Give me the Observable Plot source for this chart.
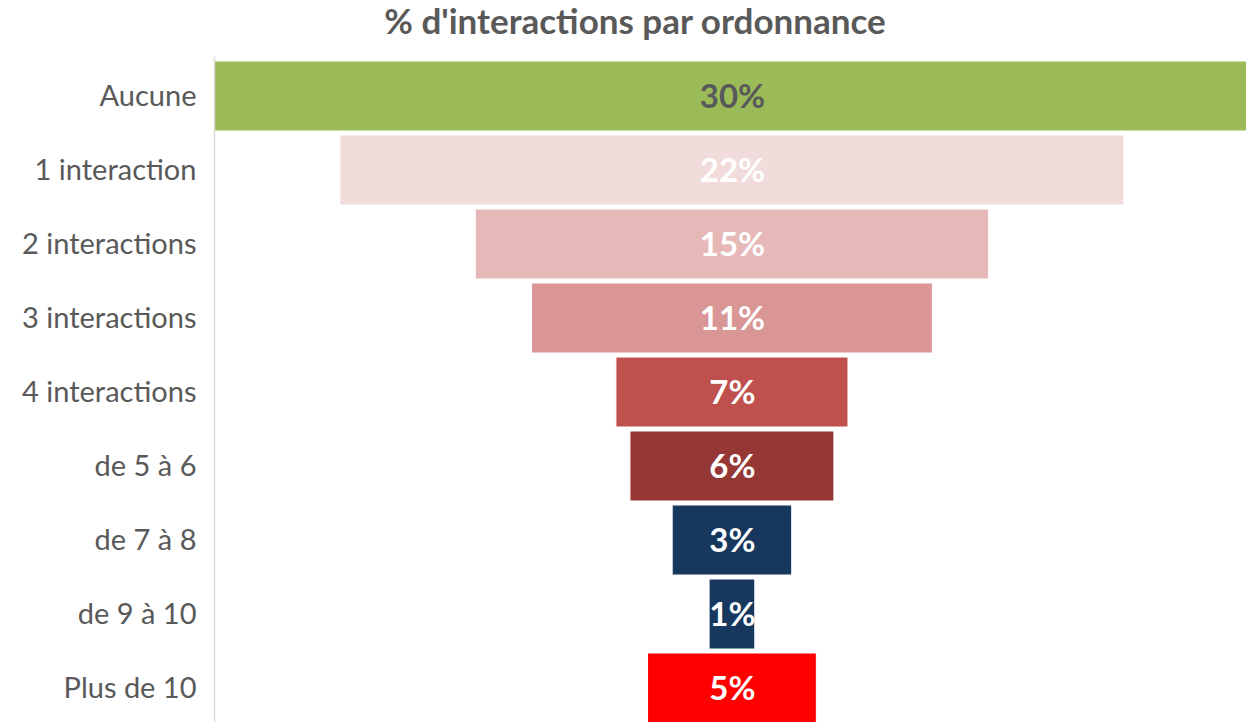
<!DOCTYPE html>
<html><head><meta charset="utf-8">
<script src="https://cdn.jsdelivr.net/npm/d3@7"></script>
<script src="https://cdn.jsdelivr.net/npm/@observablehq/plot@0.6"></script>
<style>
html,body{margin:0;padding:0;background:#fff;overflow:hidden;width:1246px;height:722px;}
#wrap{position:relative;width:1246px;height:722px;}
#title{position:absolute;left:0;width:1270px;top:-1px;text-align:center;font-family:Lato,sans-serif;font-weight:bold;font-size:35px;color:#595959;}
#chart{position:absolute;left:0;top:0;}
</style></head>
<body><div id="wrap"><div id="title">% d'interactions par ordonnance</div><div id="chart"></div></div>
<script>
const categories = ["Aucune","1 interaction","2 interactions","3 interactions","4 interactions","de 5 à 6","de 7 à 8","de 9 à 10","Plus de 10"];
const values = [30.2, 22.3, 14.6, 11.4, 6.6, 5.8, 3.4, 1.3, 4.8];
const colors = ["#9BBB59","#F2DCDB","#E6B9B8","#D99694","#C0504D","#953735","#17375E","#17375E","#FF0000"];
const labelColors = ["#595959","#fff","#fff","#fff","#fff","#fff","#fff","#fff","#fff"];

const data = categories.map((c,i)=>({cat:c, v:values[i], color:colors[i], lc:labelColors[i], label: Math.round(values[i])+"%"}));

const chart = Plot.plot({
  width: 1246, height: 727,
  marginLeft: 214, marginRight: 0, marginTop: 57, marginBottom: 0,
  style: {fontFamily: "Lato, sans-serif", background: "transparent"},
  x: {domain: [-14.73, 14.62], axis: null},
  y: {domain: categories, paddingInner: 0.06, paddingOuter: 0.03, label: null},
  marks: [
    Plot.barX(data, {y: "cat", x1: d => -d.v/2, x2: d => d.v/2, fill: d => d.color, stroke: "#fff", strokeWidth: 1, clip: true}),
    Plot.frame({anchor: "left", stroke: "#d9d9d9", strokeWidth: 1.5}),
    Plot.text(data, {y: "cat", x: 0, text: "label", fill: d => d.lc, fontSize: 33, fontWeight: "bold", dy: 1}),
    Plot.axisY({tickSize: 0, tickPadding: 18, fontSize: 29, color: "#595959", fill: "#595959", label: null})
  ]
});
document.getElementById("chart").append(chart);
</script>
</body></html>
